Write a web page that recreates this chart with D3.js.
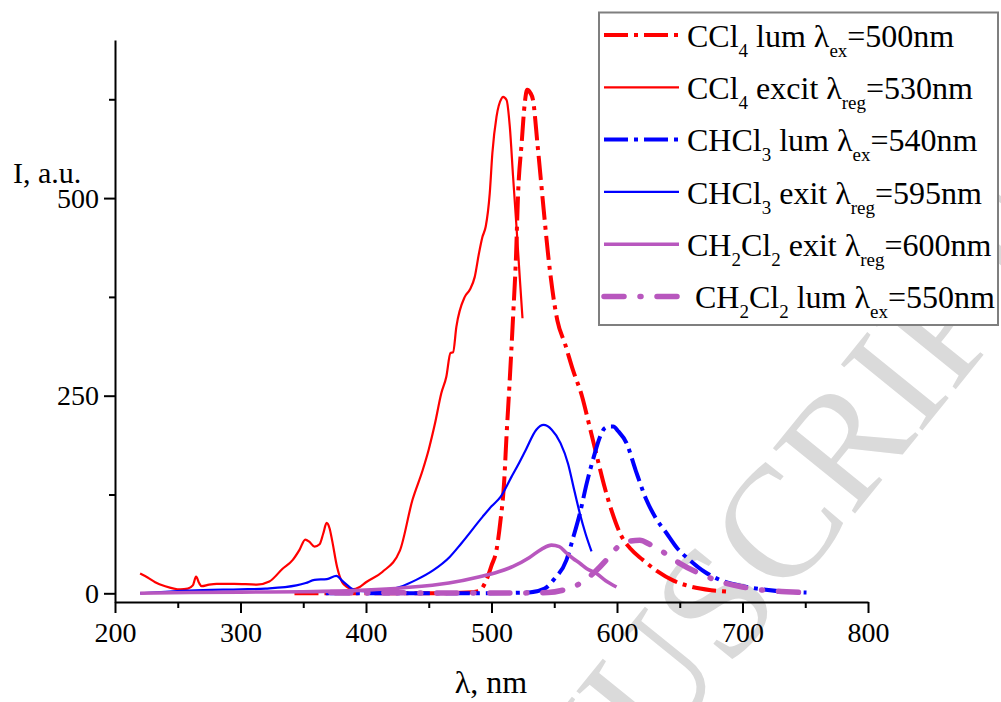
<!DOCTYPE html>
<html>
<head>
<meta charset="utf-8">
<script src="https://cdn.jsdelivr.net/npm/d3@7"></script>
<style>
  html, body { margin: 0; padding: 0; background: #fff; }
  svg { display: block; }
  text { font-family: "Liberation Serif", "Times New Roman", serif; }
</style>
</head>
<body>
<svg id="chart" width="1001" height="702"></svg>
<script>
// Luminescence (lum) and excitation (exit/excit) spectra in three solvents
const ccl4LumNm = [343, 400, 450, 480, 490, 496, 500, 504, 507, 510, 512, 514.4, 517.2, 519.5, 521.2, 524, 526.5, 528.4, 531, 533.1, 536.6, 541.6, 545, 552.5, 558.5, 565, 572, 578, 584, 590, 596, 603, 611, 620, 632, 645, 660, 675, 690];
const ccl4LumI  = [0, 0, 0, 1, 3, 17, 35, 55, 90, 139, 200, 266, 350, 425, 506, 569, 620, 637, 633, 624, 569, 485, 430, 345, 316, 282, 250, 212, 173, 135, 103, 74, 56, 43, 28, 16, 8, 4, 2];

const ccl4ExcNm = [220, 226, 232, 240, 252, 258, 262, 264.6, 267, 269, 275, 281, 295, 313, 323, 333.5, 341.5, 347, 351.6, 355, 359, 363, 366, 368.6, 371, 373, 377, 381, 385, 389, 395, 400, 413, 427, 437, 445, 450, 455, 460, 464, 467.3, 469.4, 472, 478.7, 482.7, 486.6, 490, 492.8, 495.4, 498.6, 500.7, 504, 508, 509.2, 512, 514.6, 517.2, 519.9, 522.5, 524.7];
const ccl4ExcI  = [25, 20, 14, 9, 5, 6, 10, 21, 13, 9, 11, 12, 12, 11, 15, 31, 42, 55, 68, 65, 59, 62, 76, 89, 82, 67, 33, 14, 8, 5, 8, 14, 27, 54, 118, 155, 182, 215, 253, 274, 304, 305, 337, 375, 384, 400, 430, 451, 464, 506, 557, 603, 626, 628, 624, 590, 527, 464, 400, 348];

const chcl3LumNm = [368, 420, 480, 530, 542.4, 550, 559.7, 565, 570.4, 576, 582.3, 586, 590.3, 594, 597, 601, 607.6, 615, 623.5, 631, 639.5, 648, 658, 670, 682, 700, 716.5, 735, 751];
const chcl3LumI  = [0, 0, 0, 1, 6, 18, 42, 70, 101, 140, 177, 196, 209, 211, 211, 205, 190, 155, 118, 95, 76, 57, 42, 27, 17, 9, 5, 2, 1];

const chcl3ExcNm = [220, 240, 253, 270, 300, 320, 344.5, 352, 359, 368.9, 376.4, 381.6, 386, 389.6, 395, 405.5, 415, 426.8, 440, 453.4, 466.7, 475.9, 493, 500, 507.2, 515.8, 521, 527.2, 535.7, 541.5, 548, 555, 561, 566, 570.4, 575, 579.7];
const chcl3ExcI  = [0, 2, 3, 4, 5, 6, 10, 13, 17, 18, 22, 15, 9, 5, 3, 2, 4, 8, 17, 29, 46, 63, 97, 110, 122, 147, 162, 181, 207, 213, 207, 190, 164, 130, 101, 75, 53];

const ch2cl2ExcNm = [220, 260, 300, 350, 400, 430, 466, 490.6, 505, 517.2, 530, 540, 547.8, 554, 559.7, 565, 570.4, 576, 583.7, 591, 599.6];
const ch2cl2ExcI  = [0, 1, 1.5, 2, 4, 7, 13, 21, 27, 34, 45, 56, 61, 59, 51, 44, 38, 31, 25, 16, 8];

const ch2cl2LumNm = [372, 450, 520, 545, 557, 565, 573, 582.3, 590.3, 596, 602.3, 610, 618.2, 626, 634, 650, 668.7, 682, 700, 716.5, 735, 748];
const ch2cl2LumI  = [1, 0.5, 0.5, 1, 4, 8, 15, 27, 40, 51, 61, 66, 67, 62, 55, 38, 23, 15, 8, 4, 2, 1];

// Axis ticks
const xMajorTicks = [200, 300, 400, 500, 600, 700, 800];
const xMinorTicks = [250, 350, 450, 550, 650, 750];
const yMajorTicks = [0, 250, 500];
const yMinorTicks = [125, 375, 625];

// Legend entries: text parts as [string, isSubscript]
const legendLabels = [
  [["CCl", 0], ["4", 1], [" lum \u03bb", 0], ["ex", 1], ["=500nm", 0]],
  [["CCl", 0], ["4", 1], [" excit \u03bb", 0], ["reg", 1], ["=530nm", 0]],
  [["CHCl", 0], ["3", 1], [" lum \u03bb", 0], ["ex", 1], ["=540nm", 0]],
  [["CHCl", 0], ["3", 1], [" exit \u03bb", 0], ["reg", 1], ["=595nm", 0]],
  [["CH", 0], ["2", 1], ["Cl", 0], ["2", 1], [" exit \u03bb", 0], ["reg", 1], ["=600nm", 0]],
  [["\u00a0CH", 0], ["2", 1], ["Cl", 0], ["2", 1], [" lum \u03bb", 0], ["ex", 1], ["=550nm", 0]]
];

const RED = "#ff0000", BLUE = "#0000ff", PURPLE = "#b857be";

const series = [
  { nm: ccl4LumNm,   val: ccl4LumI,   color: RED,    width: 4,   dash: "24,6,4,6",   cap: "butt" },
  { nm: ccl4ExcNm,   val: ccl4ExcI,   color: RED,    width: 2.2, dash: null,         cap: "butt" },
  { nm: chcl3LumNm,  val: chcl3LumI,  color: BLUE,   width: 4,   dash: "24,6,4,6",   cap: "butt" },
  { nm: chcl3ExcNm,  val: chcl3ExcI,  color: BLUE,   width: 2.2, dash: null,         cap: "butt" },
  { nm: ch2cl2ExcNm, val: ch2cl2ExcI, color: PURPLE, width: 3.6, dash: null,         cap: "butt" },
  { nm: ch2cl2LumNm, val: ch2cl2LumI, color: PURPLE, width: 5.5, dash: "20,16,1,16", cap: "round" }
];
const drawOrder = [1, 0, 3, 2, 4, 5];

const svg = d3.select("#chart");

const x = d3.scaleLinear().domain([200, 800]).range([115, 868]);
const y = d3.scaleLinear().domain([-11, 700]).range([602, 40]);

// Faint diagonal watermark behind the plot
const wmSize = 160;
svg.append("g")
  .attr("transform", "translate(777,526) rotate(-51)")
  .append("text")
  .attr("x", wmSize * 2.5)
  .attr("y", wmSize * 0.33)
  .attr("text-anchor", "end")
  .attr("font-size", wmSize)
  .attr("fill", "#dadada")
  .text("ACCEPTED MANUSCRIPT");

// Curves
const line = d3.line()
  .x(d => x(d[0]))
  .y(d => y(d[1]))
  .curve(d3.curveMonotoneX);

const curves = svg.append("g").attr("fill", "none");
drawOrder.forEach(i => {
  const s = series[i];
  const pts = s.nm.map((n, k) => [n, s.val[k]]);
  curves.append("path")
    .attr("d", line(pts))
    .attr("stroke", s.color)
    .attr("stroke-width", s.width)
    .attr("stroke-linecap", s.cap)
    .attr("stroke-linejoin", "round")
    .attr("stroke-dasharray", s.dash);
});

// Axes
function styleAxis(g) {
  g.select(".domain").attr("stroke", "#000").attr("stroke-width", 2);
  g.selectAll(".tick line").attr("stroke", "#000").attr("stroke-width", 2);
  g.selectAll(".tick text")
    .attr("fill", "#000")
    .attr("font-size", 28)
    .attr("font-family", "'Liberation Serif', 'Times New Roman', serif");
}

const xAxisG = svg.append("g")
  .attr("transform", `translate(0,${y(-11)})`)
  .call(d3.axisBottom(x).tickValues(xMajorTicks).tickSize(11).tickSizeOuter(0).tickFormat(d3.format("d")))
  .call(styleAxis);
xAxisG.selectAll(".tick text").attr("y", 40).attr("dy", 0);

svg.append("g")
  .attr("transform", `translate(0,${y(-11)})`)
  .call(d3.axisBottom(x).tickValues(xMinorTicks).tickSize(6).tickSizeOuter(0).tickFormat(""))
  .call(styleAxis)
  .select(".domain").remove();

const yAxisG = svg.append("g")
  .attr("transform", `translate(${x(200)},0)`)
  .call(d3.axisLeft(y).tickValues(yMajorTicks).tickSize(11).tickPadding(5).tickSizeOuter(0).tickFormat(d3.format("d")))
  .call(styleAxis);

svg.append("g")
  .attr("transform", `translate(${x(200)},0)`)
  .call(d3.axisLeft(y).tickValues(yMinorTicks).tickSize(6).tickSizeOuter(0).tickFormat(""))
  .call(styleAxis)
  .select(".domain").remove();

// Axis titles
svg.append("text")
  .attr("x", 13).attr("y", 183)
  .attr("font-size", 30)
  .text("I, a.u.");

svg.append("text")
  .attr("x", 491).attr("y", 693)
  .attr("text-anchor", "middle")
  .attr("font-size", 32)
  .text("\u03bb, nm");

// Legend
const legend = svg.append("g");
legend.append("rect")
  .attr("x", 599).attr("y", 12.5)
  .attr("width", 399).attr("height", 312.5)
  .attr("fill", "#fff")
  .attr("stroke", "#7f7f7f")
  .attr("stroke-width", 2);

const rowY = d3.scaleLinear().domain([0, 5]).range([35, 296.5]);

legendLabels.forEach((parts, i) => {
  const s = series[i];
  const ly = rowY(i);
  legend.append("line")
    .attr("x1", 604).attr("x2", 679)
    .attr("y1", ly).attr("y2", ly)
    .attr("stroke", s.color)
    .attr("stroke-width", s.width)
    .attr("stroke-linecap", s.cap)
    .attr("stroke-dasharray", s.dash);

  const t = legend.append("text")
    .attr("x", 687).attr("y", ly + 11.7)
    .attr("font-size", 32)
    .attr("fill", "#000");
  let lowered = false;
  parts.forEach(([str, sub]) => {
    const ts = t.append("tspan").text(str);
    if (sub) {
      ts.attr("font-size", 19);
      if (!lowered) { ts.attr("dy", 10); lowered = true; }
    } else if (lowered) {
      ts.attr("dy", -10); lowered = false;
    }
  });
});
</script>
</body>
</html>
